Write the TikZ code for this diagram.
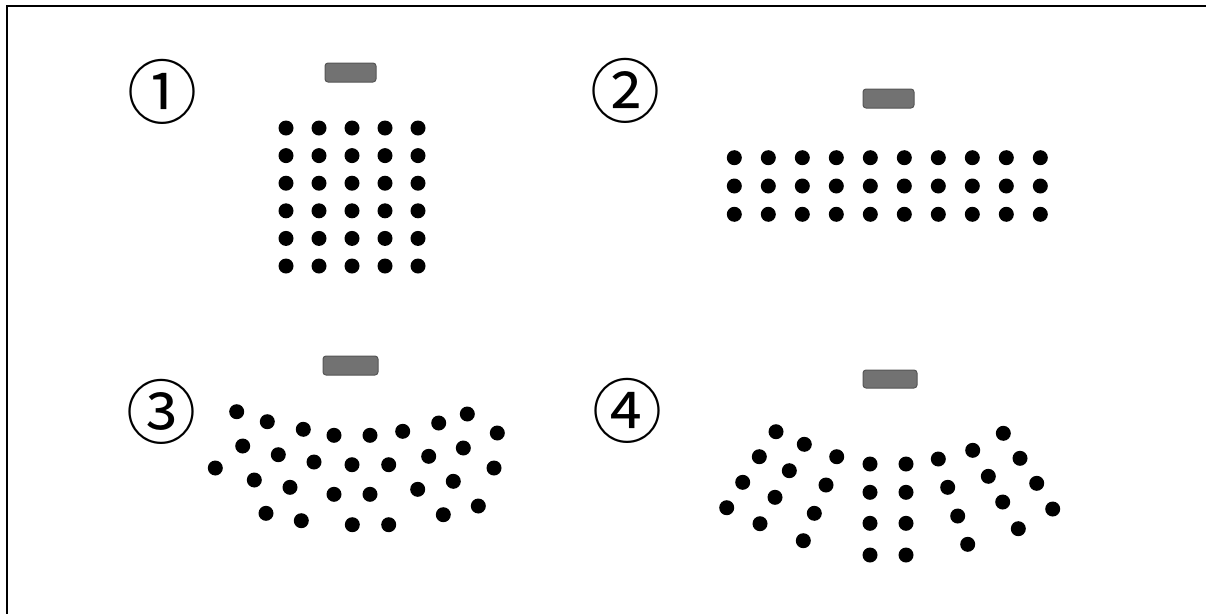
\documentclass[tikz,border=0pt]{standalone}
\usepackage{fontspec}
\newfontfamily\cjkfont{Noto Sans CJK JP}
\definecolor{deskfill}{HTML}{727272}
\definecolor{deskline}{HTML}{555555}
\tikzset{
  seat/.style={fill=black},
  desk/.style={fill=deskfill, draw=deskline, line width=1pt, rounded corners=3pt},
  numlabel/.style={font=\cjkfont\fontsize{70}{70}\selectfont, inner sep=0pt},
  frame/.style={line width=2pt, draw=black}
}
\newcommand{\seatr}{7.5}
\begin{document}
\begin{tikzpicture}[x=1pt,y=-1pt]
\useasboundingbox (0,0) rectangle (1206,614);
\fill[white] (0,0) rectangle (1206,614);
% frame (top and left only visible)
\draw[frame] (1206,6) -- (7,6) -- (7,614);

% labels
\node[numlabel] (n1) at (162,92) {①};
\node[numlabel] (n2) at (625,91) {②};
\node[numlabel] (n3) at (161,412) {③};
\node[numlabel] (n4) at (627,411) {④};

% desks
\draw[desk] (325,63) rectangle (376,82);
\draw[desk] (863,89) rectangle (914,108);
\draw[desk] (323,356) rectangle (378,375);
\draw[desk] (863,370) rectangle (917,388);

% panel 1: 5 x 6 grid
\foreach \i in {0,...,4}
  \foreach \j in {0,...,5}
    \fill[seat] ({286+33*\i},{128+27.6*\j}) circle (\seatr);

% panel 2: 10 x 3 grid
\foreach \i in {0,...,9}
  \foreach \j in {0,...,2}
    \fill[seat] ({734.3+34.0*\i},{157.7+28.3*\j}) circle (\seatr);

% panel 3: arc arrangement
\foreach \x/\y in {236.7/411.7, 267.3/421.7, 303.3/429.3, 334/435.3, 370/435.3, 402.7/431.3, 438.7/423, 467.3/414, 497.3/433,
  242.7/446, 278.3/454.7, 314/462, 352/464.7, 388.7/464.7, 428.7/456.3, 463.3/448, 494/468,
  215.3/468,
  254.3/480, 290/487.3, 334/494.3, 370/494.3, 417.7/489.3, 453.3/481.3, 478.3/506,
  266/513.3, 301.3/520.7, 352.3/524.7, 388.7/524.7, 443.3/514.7}
  \fill[seat] (\x,\y) circle (\seatr);

% panel 4: chevron arrangement
\foreach \x/\y in {776/431.7, 804.3/444.3, 759.3/456.7, 789.3/470.7, 836.7/456.7, 742.7/482.3, 775/497.3, 826/485,
  726.7/507.7, 760/523.7, 814.3/513.3, 803.3/540.7,
  870/464, 906/464, 870/492.3, 906/492.3, 870/523.3, 906/523.3, 870/555, 906/555,
  938.3/459, 972.7/450.3, 1003.3/433.3, 947.7/487.3, 988.3/476.3, 1020/458.3, 957.7/516, 1002.7/502,
  1036.7/483.3, 967.7/544.3, 1018.3/528.7, 1052.7/509}
  \fill[seat] (\x,\y) circle (\seatr);
\end{tikzpicture}
\end{document}
